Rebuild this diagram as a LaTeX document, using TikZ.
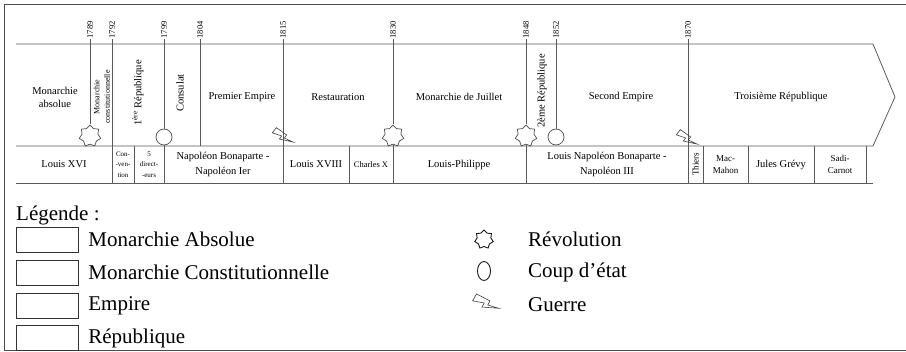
\documentclass[tikz,border=0pt]{standalone}
\usepackage{fontspec}
\setmainfont{Liberation Serif}
\usetikzlibrary{positioning,shapes.geometric}

\newcommand{\fsz}[2]{\fontsize{#1}{#2}\selectfont}

\tikzset{
  rule/.style={draw=black!65, line width=0.8pt},
  year/.style={rotate=90, anchor=west, inner sep=0.5pt, font=\fsz{8.5}{9}},
  era/.style={align=center, inner sep=0pt, font=\fsz{10.5}{13}},
  sidera/.style={era, rotate=90},
  reign/.style={align=center, inner sep=0pt, font=\fsz{10.5}{14.5}},
  tiny/.style={align=center, inner sep=0pt, font=\fsz{7}{10.5}},
  revol/.style={draw=black!70, fill=white, star, star points=7,
    star point ratio=1.35, minimum size=22pt, inner sep=0pt, line width=0.7pt},
  coup/.style={draw=black!70, fill=white, circle, minimum size=16pt,
    inner sep=0pt, line width=0.7pt},
  keybox/.style={draw=black!80, minimum width=62pt, minimum height=25pt, inner sep=0pt},
  keytext/.style={anchor=west, inner sep=0pt, font=\fsz{21}{24}},
  bolt/.pic={
    \draw[black!75, line width=0.6pt, scale=11, line join=miter]
      (-1,-0.3) -- (-1,0.3) -- (-0.15,0) -- (-0.15,0.35) -- (1,-0.2)
      -- (0.15,0) -- (0.15,-0.35) -- cycle;
  }
}

\begin{document}
\begin{tikzpicture}[x=1pt, y=-1pt]
  \useasboundingbox (0,0) rectangle (906,352);
  % frame
  \draw[black!70, line width=1.2pt] (906,4.5) -- (4.5,4.5) -- (4.5,350.5) -- (906,350.5);

  % band and row
  \draw[rule] (16,44) -- (873,44) -- (895,97) -- (873,146) -- (16,146);
  \draw[rule] (16,183) -- (873,183);
  \foreach \xx in {134,349,703,748,814,866}
    \draw[rule] (\xx,146) -- (\xx,183);

  % years
  \foreach \yr/\xx in {1789/90,1792/112,1799/164,1804/200,1815/283,1830/393,1848/526,1852/556,1870/688}
    \node[year] (y\yr) at (\xx,39) {\yr};

  % events
  \node[revol] (r1789) at (90,136) {};
  \node[revol] (r1830) at (393,136) {};
  \node[revol] (r1848) at (526,136) {};
  \node[coup] (c1799) at (164,137) {};
  \node[coup] (c1852) at (556,137) {};
  \coordinate (e1792) at (112,183);
  \coordinate (e1799) at (164,183);
  \coordinate (e1804) at (200,146);
  \coordinate (e1815) at (283,183);
  \coordinate (e1830) at (393,183);
  \coordinate (e1848) at (526,183);
  \coordinate (e1870) at (688,183);

  \draw[rule] (y1789.west) -- (r1789.north);
  \draw[rule] (y1792.west) -- (e1792);
  \draw[rule] (y1799.west) -- (c1799.north) (c1799.south) -- (e1799);
  \draw[rule] (y1804.west) -- (e1804);
  \draw[rule] (y1815.west) -- (e1815);
  \draw[rule] (y1830.west) -- (r1830.north) (r1830.south) -- (e1830);
  \draw[rule] (y1848.west) -- (r1848.north) (r1848.south) -- (e1848);
  \draw[rule] (y1852.west) -- (c1852.north);
  \draw[rule] (y1870.west) -- (e1870);
  \pic[rotate=-38] at (283,137) {bolt};
  \pic[rotate=-38] at (687,139) {bolt};

  % regimes
  \node[era] (absolue) at (55,97) {Monarchie\\absolue};
  \node[sidera, font=\fsz{8}{10.5}] (constit) at (102,97) {Monarchie\\constitutionnelle};
  \node[sidera] (rep1) at (138,93) {1\textsuperscript{ère} République};
  \node[sidera] (consulat) at (180,93) {Consulat};
  \node[era] (empire1) at (242,97) {Premier Empire};
  \node[era] (restau) at (338,97) {Restauration};
  \node[era] (juillet) at (459,97) {Monarchie de Juillet};
  \node[sidera] (rep2) at (542,91) {2ème République};
  \node[era] (empire2) at (621,97) {Second Empire};
  \node[era] (rep3) at (781,97) {Troisième République};

  % rulers
  \node[reign] (louis16) at (64,164.5) {Louis XVI};
  \node[tiny] (conv) at (123,164.5) {Con-\\-ven-\\tion};
  \node[tiny] (direct) at (149,164.5) {5\\direct-\\-eurs};
  \node[reign] (napo1) at (223,164.5) {Napoléon Bonaparte -\\Napoléon Ier};
  \node[reign] (louis18) at (316,164.5) {Louis XVIII};
  \node[reign, font=\fsz{8.5}{10}] (charles) at (371,164.5) {Charles X};
  \node[reign] (philippe) at (459,164.5) {Louis-Philippe};
  \node[reign] (napo3) at (607,164.5) {Louis Napoléon Bonaparte -\\Napoléon III};
  \node[reign, rotate=90, font=\fsz{9}{10}] (thiers) at (695.5,164.5) {Thiers};
  \node[reign, font=\fsz{9}{12.5}] (macmahon) at (725.5,164.5) {Mac-\\Mahon};
  \node[reign] (grevy) at (781,164.5) {Jules Grévy};
  \node[reign, font=\fsz{9}{12.5}] (carnot) at (840,164.5) {Sadi-\\Carnot};

  % legend
  \node[keytext] (legende) at (16,215) {Légende :};
  \node[keybox] (kAbs) at (47,239.5) {};
  \node[keybox, below=7.5pt of kAbs] (kCon) {};
  \node[keybox, below=7.5pt of kCon] (kEmp) {};
  \node[keybox, below=7.5pt of kEmp] (kRep) {};
  \node[keytext, right=10pt of kAbs] {Monarchie Absolue};
  \node[keytext, right=10pt of kCon] {Monarchie Constitutionnelle};
  \node[keytext, right=10pt of kEmp] {Empire};
  \node[keytext, right=10pt of kRep] {République};

  \node[revol, minimum size=19pt, draw=black!90, line width=0.9pt] (kRev) at (484,239.5) {};
  \node[draw=black!90, ellipse, minimum width=13pt, minimum height=19pt,
    inner sep=0pt, line width=0.9pt] (kCoup) at (484,271) {};
  \pic[rotate=-30, scale=1.2] at (486,304) {bolt};
  \node[keytext] (tRev) at (528,239.5) {Révolution};
  \node[keytext] (tCoup) at (528,272) {Coup d’état};
  \node[keytext] (tGuerre) at (528,304.5) {Guerre};
\end{tikzpicture}
\end{document}
